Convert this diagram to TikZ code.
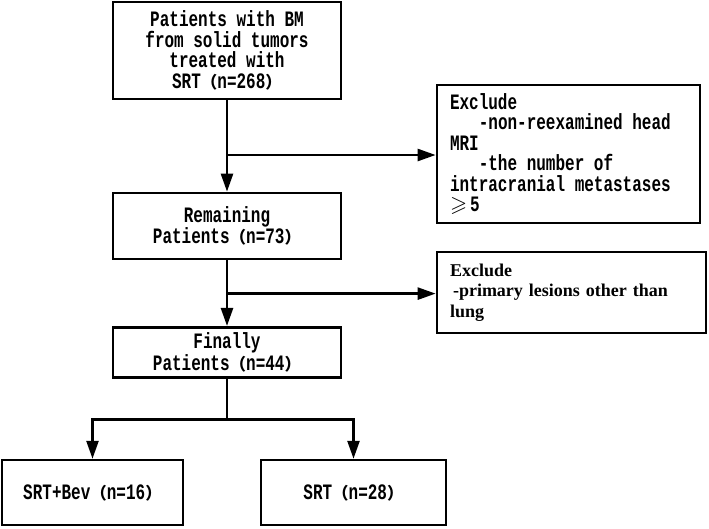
\documentclass[tikz,border=0pt]{standalone}
\usepackage{fontspec}
\usepackage{amssymb}
\usetikzlibrary{arrows.meta}
\newfontfamily\monof{Liberation Mono}[FakeStretch=0.727]
\newfontfamily\serifb{Liberation Serif}
\newfontfamily\cjk{Noto Sans CJK SC}[Scale=0.75]
\newcommand\lpar{{\cjk （}}
\newcommand\rpar{{\cjk ）}}
\newcommand\ws{\hspace{9.6pt}}
\begin{document}
\begin{tikzpicture}[x=1pt,y=-1pt,
  box/.style={draw, line width=2.7pt, inner sep=0pt, align=center,
    font=\monof\bfseries\fontsize{22}{20.5}\selectfont},
  exbox/.style={box, align=left},
  arr/.style={line width=2.5pt, -{Triangle[length=18pt,width=12pt]}},
  ln/.style={line width=2.5pt}]
\useasboundingbox (0,0) rectangle (709,528);
\node[box, minimum width=228pt, minimum height=97pt] (b1) at (227,50.5)
  {Patients\ws with\ws BM\\from\ws solid\ws tumors\\treated\ws with\\SRT\lpar n=268\rpar};
\node[exbox, minimum width=263pt, minimum height=138pt, text width=237pt] (ex1) at (568.5,154)
  {Exclude\\\hspace*{28.8pt}-non-reexamined\ws head\\MRI\\\hspace*{28.8pt}-the\ws number\ws of\\intracranial\ws metastases\\$\geqslant$\kern3pt 5};
\node[box, minimum width=228pt, minimum height=66pt] (rem) at (227,226)
  {Remaining\\Patients\lpar n=73\rpar};
\node[exbox, minimum width=269pt, minimum height=81pt, text width=243pt,
  font=\serifb\bfseries\fontsize{18}{20.5}\selectfont] (ex2) at (571.5,292.6)
  {Exclude\\\hspace*{3pt}-primary lesions other than\\lung};
\node[box, minimum width=228pt, minimum height=50pt] (fin) at (227,352.3)
  {Finally\\Patients\lpar n=44\rpar};
\node[box, minimum width=181pt, minimum height=65pt] (bev) at (92.5,492.6)
  {SRT+Bev\lpar n=16\rpar};
\node[box, minimum width=185pt, minimum height=65pt] (srt) at (353.5,492.6)
  {SRT\lpar n=28\rpar};
\coordinate (j1) at (227,155);
\coordinate (j2) at (227,293.6);
\coordinate (j3) at (227,419.3);
\draw[arr] (b1.south) -- (rem.north);
\draw[arr] (j1) -- (j1 -| ex1.west);
\draw[arr] (rem.south) -- (fin.north);
\draw[arr] (j2) -- (j2 -| ex2.west);
\draw[ln] (fin.south) -- (j3);
\draw[arr] (j3) -| (bev.north);
\draw[arr] (j3) -| (srt.north);
\end{tikzpicture}
\end{document}
